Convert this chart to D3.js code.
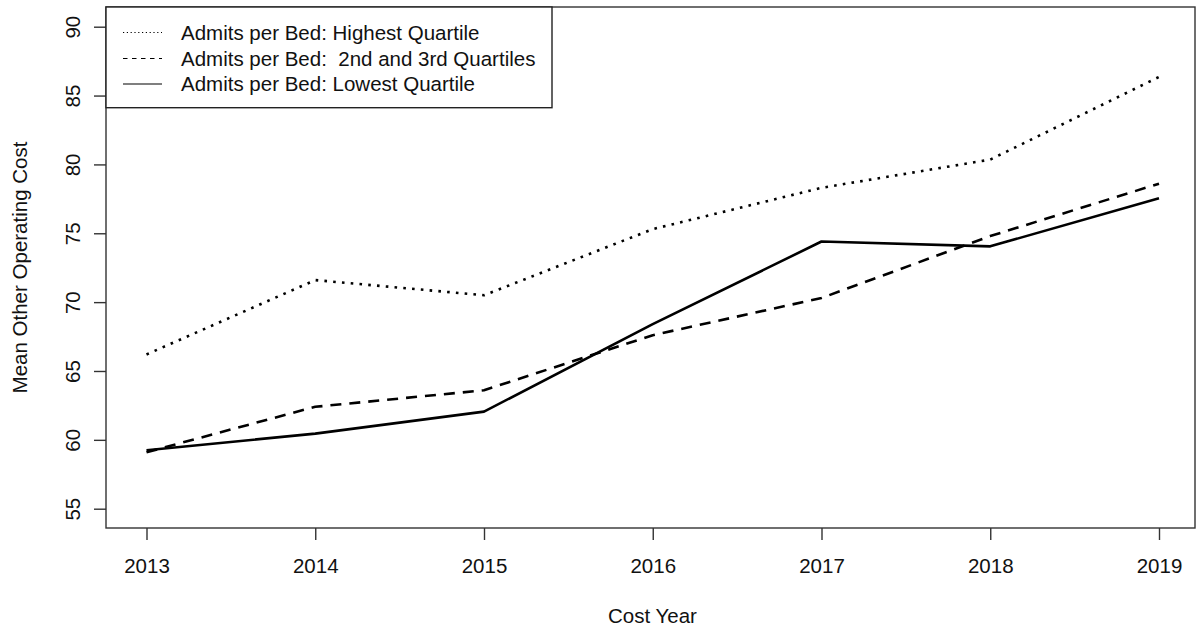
<!DOCTYPE html>
<html>
<head>
<meta charset="utf-8">
<script src="https://cdn.jsdelivr.net/npm/d3@7"></script>
<style>
  html, body { margin: 0; padding: 0; background: #fff; }
  svg { display: block; font-family: "Liberation Sans", Arial, sans-serif; }
</style>
</head>
<body>
<svg id="chart" width="1199" height="630"></svg>
<script>
// ---- data ----
const years = [2013, 2014, 2015, 2016, 2017, 2018, 2019];
const highestQuartile = [66.2, 71.6, 70.5, 75.3, 78.3, 80.35, 86.35];
const midQuartiles    = [59.1, 62.4, 63.6, 67.6, 70.3, 74.8, 78.6];
const lowestQuartile  = [59.25, 60.45, 62.05, 68.4, 74.4, 74.05, 77.55];
const yTicks = [55, 60, 65, 70, 75, 80, 85, 90];
const seriesNames = [
  "Admits per Bed: Highest Quartile",
  "Admits per Bed:  2nd and 3rd Quartiles",
  "Admits per Bed: Lowest Quartile"
];
const xTitle = "Cost Year";
const yTitle = "Mean Other Operating Cost";

// ---- layout ----
const svg = d3.select("#chart");
const box = { left: 106, right: 1195, top: 7, bottom: 528 };

const x = d3.scaleLinear().domain([2013, 2019]).range([146.5, 1159]);
const y = d3.scaleLinear().domain([55, 90]).range([508.7, 26.7]);

const ink = "#111";
const fontSize = 20.5;

// plot box
svg.append("rect")
  .attr("x", box.left).attr("y", box.top)
  .attr("width", box.right - box.left).attr("height", box.bottom - box.top)
  .attr("fill", "none").attr("stroke", "#333").attr("stroke-width", 1.4);

// x axis
const xAxis = d3.axisBottom(x).tickValues(years).tickFormat(d3.format("d"))
  .tickSize(12).tickPadding(18);
const gx = svg.append("g").attr("transform", `translate(0,${box.bottom})`).call(xAxis);
gx.select(".domain").remove();
gx.selectAll(".tick line").attr("stroke", "#333").attr("stroke-width", 1.4);
gx.selectAll(".tick text").attr("font-size", fontSize).attr("fill", ink)
  .attr("font-family", "Liberation Sans, Arial, sans-serif");

// y axis
const yAxis = d3.axisLeft(y).tickValues(yTicks).tickSize(12).tickPadding(0);
const gy = svg.append("g").attr("transform", `translate(${box.left},0)`).call(yAxis);
gy.select(".domain").remove();
gy.selectAll(".tick line").attr("stroke", "#333").attr("stroke-width", 1.4);
gy.selectAll(".tick text")
  .attr("font-size", fontSize).attr("fill", ink)
  .attr("font-family", "Liberation Sans, Arial, sans-serif")
  .attr("x", null).attr("dy", null)
  .attr("text-anchor", "middle")
  .attr("transform", "translate(-26,0) rotate(-90)");

// axis titles
svg.append("text")
  .attr("x", (box.left + box.right) / 2 + 2).attr("y", 623)
  .attr("text-anchor", "middle").attr("font-size", fontSize).attr("fill", ink)
  .text(xTitle);
svg.append("text")
  .attr("transform", `translate(27,${(box.top + box.bottom) / 2}) rotate(-90)`)
  .attr("text-anchor", "middle").attr("font-size", fontSize).attr("fill", ink)
  .text(yTitle);

// series
const series = [
  { name: seriesNames[0], values: highestQuartile, dash: "2.6,6.2" },
  { name: seriesNames[1], values: midQuartiles,    dash: "11,8" },
  { name: seriesNames[2], values: lowestQuartile,  dash: null }
];
const line = d3.line().x((d, i) => x(years[i])).y(d => y(d));

svg.append("g").selectAll("path").data(series).join("path")
  .attr("d", d => line(d.values))
  .attr("fill", "none").attr("stroke", "#000").attr("stroke-width", 2.6)
  .attr("stroke-linejoin", "round")
  .attr("stroke-dasharray", d => d.dash);

// legend
const legend = svg.append("g");
legend.append("rect")
  .attr("x", box.left).attr("y", box.top)
  .attr("width", 552 - box.left).attr("height", 107.7 - box.top)
  .attr("fill", "#fff").attr("stroke", "#222").attr("stroke-width", 1.4);
const rowY = [32.5, 58.5, 84];
const legendDash = ["1.2,2.6", "4.5,4.5", null];
series.forEach((s, i) => {
  legend.append("line")
    .attr("x1", 123).attr("x2", 162).attr("y1", rowY[i]).attr("y2", rowY[i])
    .attr("stroke", "#000").attr("stroke-width", 1.1)
    .attr("stroke-dasharray", legendDash[i]);
  legend.append("text")
    .attr("x", 181).attr("y", rowY[i]).attr("dy", "0.35em")
    .attr("font-size", fontSize).attr("fill", ink)
    .style("white-space", "pre")
    .text(s.name);
});
</script>
</body>
</html>
